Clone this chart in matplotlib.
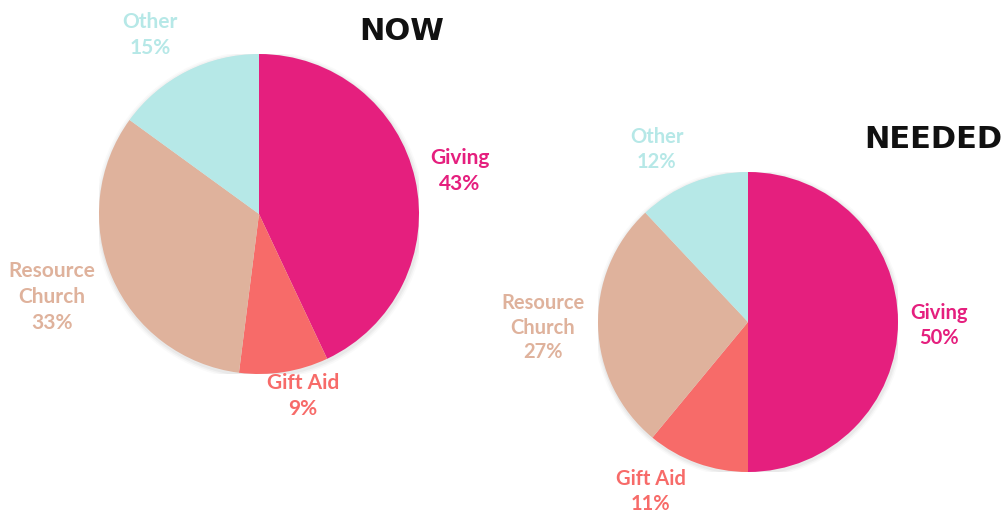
import matplotlib
matplotlib.use('Agg')
import matplotlib.pyplot as plt
from matplotlib.patches import Circle

# data
categories = ["Giving", "Gift Aid", "Resource\nChurch", "Other"]
now_values = [43, 9, 33, 15]
needed_values = [50, 11, 27, 12]
colors = ["#E51F7E", "#F76B69", "#DFB29C", "#B6E8E7"]

# label positions in pie radius units (x, y)
now_label_pos = [(1.256, 0.266), (0.275, -1.14), (-1.294, -0.52), (-0.68, 1.12)]
needed_label_pos = [(1.273, -0.023), (-0.647, -1.13), (-1.367, -0.037), (-0.607, 1.15)]

W, H = 1007, 515
fig = plt.figure(figsize=(W / 100, H / 100), dpi=100)
fig.patch.set_facecolor("white")


def draw_pie(box, values, label_pos, fontsize, spacing):
    x0, y0, size = box
    ax = fig.add_axes([x0 / W, (H - y0 - size) / H, size / W, size / H])
    # soft shadow round the pie
    for k, a in zip([1.03, 1.02, 1.01], [0.04, 0.06, 0.08]):
        ax.add_patch(Circle((0.005, -0.01), k, color="grey", alpha=a, lw=0, zorder=0))
    ax.pie(values, colors=colors, startangle=90, counterclock=False,
           wedgeprops=dict(linewidth=0))
    ax.set_xlim(-1, 1)
    ax.set_ylim(-1, 1)
    ax.set_aspect("auto")
    ax.axis("off")
    for cat, v, c, (lx, ly) in zip(categories, values, colors, label_pos):
        ax.text(lx, ly, f"{cat}\n{v}%", color=c, fontsize=fontsize,
                fontweight="bold", family="Lato", ha="center", va="center",
                linespacing=spacing, clip_on=False)
    return ax


draw_pie((99, 54, 320), now_values, now_label_pos, 15, 1.38)
draw_pie((598, 172, 300), needed_values, needed_label_pos, 14.5, 1.3)

fig.text(402 / W, 1 - 32 / H, "NOW", fontsize=22, fontweight="bold",
         family="DejaVu Sans", ha="center", va="center", color="#111111")
fig.text(933 / W, 1 - 140 / H, "NEEDED", fontsize=22, fontweight="bold",
         family="DejaVu Sans", ha="center", va="center", color="#111111")

fig.savefig("out.png", dpi=100)
